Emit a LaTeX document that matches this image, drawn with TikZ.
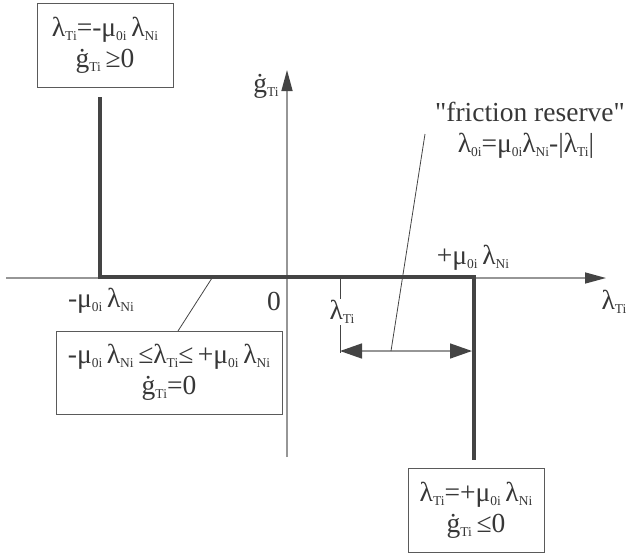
\documentclass[tikz,border=0pt]{standalone}
\usepackage{fontspec}
\setmainfont{Liberation Serif}
\newfontfamily\plainserif{Liberation Serif}
\usepackage{tikz}
\usetikzlibrary{arrows.meta, positioning}
\definecolor{linecol}{RGB}{68,68,68}
\definecolor{axiscol}{RGB}{150,150,150}
\definecolor{boxcol}{RGB}{90,90,90}
\definecolor{textcol}{RGB}{55,55,55}
\newcommand{\idx}[1]{\raisebox{-0.32ex}{\fontsize{13.5}{13.5}\selectfont #1}}

\begin{document}
\begin{tikzpicture}[x=1pt, y=-1pt, text=textcol,
    font=\fontsize{27.5}{31}\selectfont,
    axis/.style={draw=axiscol, line width=1.5pt, -{Triangle[length=21pt,width=11pt]}, arrows={[color=linecol]}},
    thickline/.style={draw=linecol, line width=4pt},
    leader/.style={draw=linecol, line width=0.8pt},
    condbox/.style={draw=boxcol, line width=1pt, fill=white, align=center, inner sep=2pt}]
  \useasboundingbox (0,0) rectangle (628,555);

  % axes
  \coordinate (xstart) at (6,278);
  \coordinate (xend) at (606,278);
  \coordinate (ystart) at (287,457);
  \coordinate (yend) at (287,70);
  \draw[axis] (xstart) -- (xend);
  \draw[axis] (ystart) -- (yend);
  \node (xlab) at (614,302) {λ\idx{Ti}};
  \node (ylab) at (266,86) {ġ\idx{Ti}};
  \node (zero) at (274,301) {0};

  % characteristic
  \coordinate (c1) at (100,97);
  \coordinate (c2) at (100,277);
  \coordinate (c3) at (474,277);
  \coordinate (c4) at (474,460);
  \draw[thickline] (c1) -- (c2) -- (c3) -- (c4);
  \node (lneg) at (101,301) {-μ\idx{0i}\,λ\idx{Ni}};
  \node (lpos) at (473,258) {+μ\idx{0i}\,λ\idx{Ni}};

  % reserve
  \coordinate (tk) at (340,278);
  \coordinate (tkb) at (340,353);
  \draw[leader] (tk) -- (tkb);
  \node[fill=white, inner sep=1pt] (ltk) at (342,312) {λ\idx{Ti}};
  \coordinate (ra) at (340,351);
  \coordinate (rb) at (472,351);
  \draw[draw=axiscol, line width=1.5pt,
        {Triangle[length=22pt,width=15pt,color=linecol]}-{Triangle[length=22pt,width=15pt,color=linecol]}]
    (ra) -- (rb);
  \node (fres) at (530,112) {\plainserif"friction reserve"};
  \node (fform) at (526,146) {λ\idx{0i}=μ\idx{0i}λ\idx{Ni}-|λ\idx{Ti}|};
  \coordinate (lr1) at (391,351);
  \coordinate (lr2) at (425,134);
  \draw[leader] (lr1) -- (lr2);

  % condition boxes
  \node[condbox, minimum width=136pt, minimum height=84pt] (bneg) at (105,45)
    {λ\idx{Ti}=-μ\idx{0i}\,λ\idx{Ni}\\ ġ\idx{Ti}\,≥0};
  \node[condbox, minimum width=226pt, minimum height=83pt] (bstick) at (169,372.5)
    {-μ\idx{0i}\,λ\idx{Ni}\,≤λ\idx{Ti}≤\,+μ\idx{0i}\,λ\idx{Ni}\\ ġ\idx{Ti}=0};
  \node[condbox, minimum width=136pt, minimum height=84pt] (bpos) at (476,510)
    {λ\idx{Ti}=+μ\idx{0i}\,λ\idx{Ni}\\ ġ\idx{Ti}\,≤0};
  \coordinate (ls1) at (178,331);
  \coordinate (ls2) at (212,278);
  \draw[leader] (ls1) -- (ls2);
\end{tikzpicture}
\end{document}
